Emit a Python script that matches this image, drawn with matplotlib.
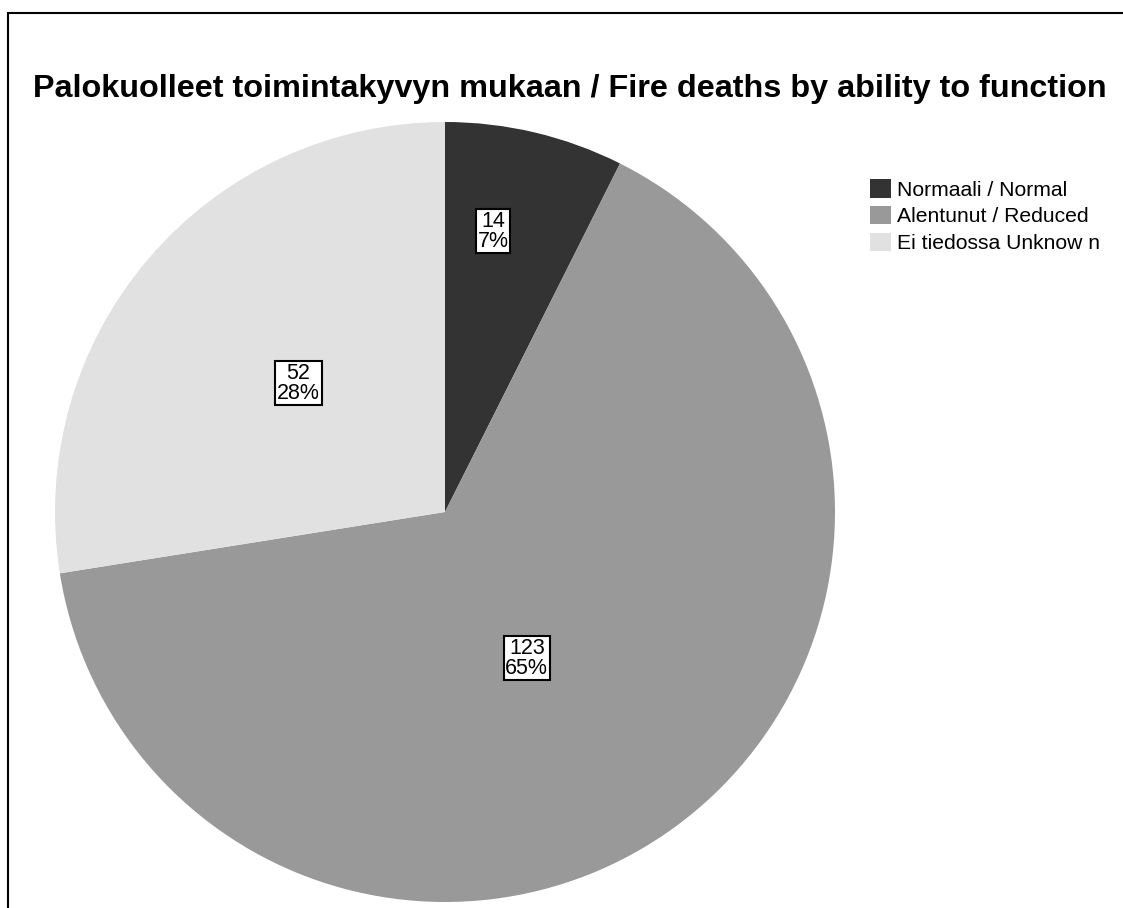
import matplotlib
matplotlib.use("Agg")
import matplotlib.pyplot as plt
from matplotlib.patches import Rectangle
import numpy as np

plt.rcParams['font.family'] = ['Liberation Sans', 'DejaVu Sans']

# data
categories = ['Normaali / Normal', 'Alentunut / Reduced', 'Ei tiedossa Unknow n']
counts = [14, 123, 52]
colors = ['#333333', '#999999', '#e1e1e1']
# label placement (fraction of radius, angle tweak in degrees)
label_dist = [0.73, 0.43, 0.50]
label_tweak = [3.6, -7.0, -0.8]

W, H = 1123, 908
fig = plt.figure(figsize=(W / 100, H / 100), dpi=100)

# outer frame (runs off the right and bottom edges like the source)
fig.patches.append(Rectangle((8 / W, -0.05), 1.2, (H - 13) / H + 0.05,
                             transform=fig.transFigure, fill=False,
                             edgecolor='black', linewidth=1.5))

fig.text(570 / W, (H - 89) / H,
         'Palokuolleet toimintakyvyn mukaan / Fire deaths by ability to function',
         ha='center', va='center', fontsize=23.3, fontweight='bold')

cx, cy, r = 445, 512, 390
ax = fig.add_axes([(cx - r) / W, (H - cy - r) / H, 2 * r / W, 2 * r / H])
wedges, _ = ax.pie(counts, colors=colors, startangle=90, counterclock=False,
                   radius=1, wedgeprops=dict(linewidth=0))
ax.set_xlim(-1, 1)
ax.set_ylim(-1, 1)
ax.set_aspect('equal')
ax.axis('off')

total = sum(counts)
for w, n, d, t in zip(wedges, counts, label_dist, label_tweak):
    mid = np.deg2rad((w.theta1 + w.theta2) / 2 + t)
    ax.text(d * np.cos(mid), d * np.sin(mid), '%d\n%d%%' % (n, round(100 * n / total)),
            ha='center', va='center', fontsize=15.5, linespacing=0.92,
            bbox=dict(boxstyle='square,pad=0.08', facecolor='white',
                      edgecolor='black', linewidth=1.5))

fig.legend(wedges, categories, loc='upper left', bbox_to_anchor=(862 / W, (H - 171) / H),
           frameon=False, fontsize=15.2, handlelength=0.95, handleheight=0.95,
           handletextpad=0.3, labelspacing=0.3, borderaxespad=0)

fig.savefig('out.png', dpi=100)
